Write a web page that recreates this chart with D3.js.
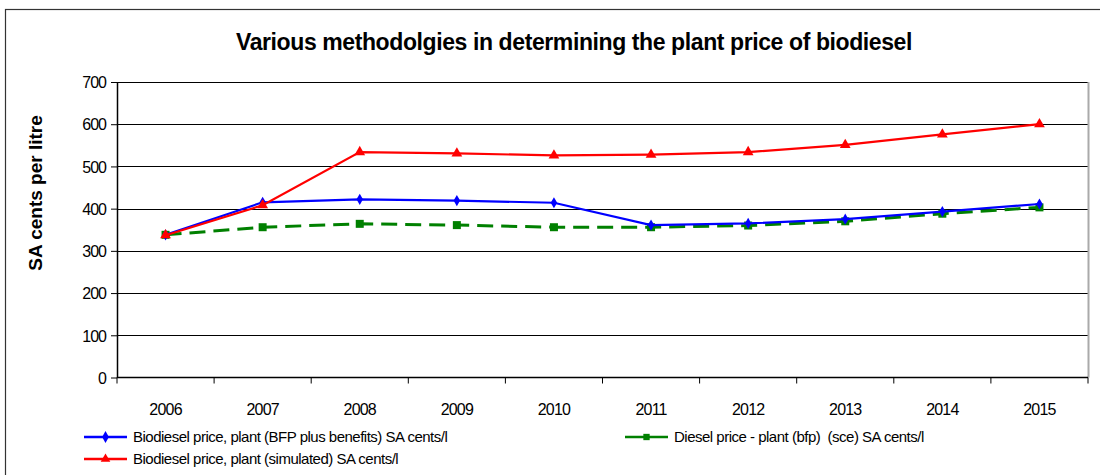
<!DOCTYPE html>
<html>
<head>
<meta charset="utf-8">
<script src="https://cdn.jsdelivr.net/npm/d3@7"></script>
<style>
  body { margin: 0; background: #fff; }
  text { font-family: "Liberation Sans", Arial, sans-serif; }
</style>
</head>
<body>
<script>
//chart data
var years = ["2006","2007","2008","2009","2010","2011","2012","2013","2014","2015"];
var bfpPlus = [338, 415, 422, 419, 414, 361, 365, 375, 393, 411];
var simulated = [337, 408, 534, 531, 526, 528, 534, 551, 576, 600];
var dieselBfp = [338, 356, 364, 361, 356, 356, 360, 370, 388, 403];
var yTicks = [0, 100, 200, 300, 400, 500, 600, 700];
var seriesNames = [
    "Biodiesel price, plant (BFP plus benefits) SA cents/l",
    "Diesel price - plant (bfp)  (sce) SA cents/l",
    "Biodiesel price, plant (simulated) SA cents/l"
];

window.onload = function(){

    var w = 1100, h = 475;

    var svg = d3.select("body").append("svg")
        .attr("width", w)
        .attr("height", h);

    //outer chart border
    svg.append("rect")
        .attr("x", 5.5).attr("y", 9.5)
        .attr("width", 1110).attr("height", 480)
        .style("fill", "#fff")
        .style("stroke", "#333")
        .style("stroke-width", 1.2);

    //plot area
    var pLeft = 117, pRight = 1088, pTop = 82, pBottom = 377.5;

    var x = d3.scaleBand().domain(years).range([pLeft, pRight]);
    var y = d3.scaleLinear().domain([0, 700]).range([pBottom, pTop]);

    //gridlines
    svg.selectAll(".grid")
        .data(yTicks.filter(function(d){ return d > 0; }))
        .enter().append("line")
        .attr("class", "grid")
        .attr("x1", pLeft).attr("x2", pRight)
        .attr("y1", function(d){ return Math.round(y(d)) + 0.5; })
        .attr("y2", function(d){ return Math.round(y(d)) + 0.5; })
        .style("stroke", "#000")
        .style("stroke-width", 1);

    //right border of plot
    svg.append("line")
        .attr("x1", pRight + 0.5).attr("x2", pRight + 0.5)
        .attr("y1", pTop).attr("y2", pBottom)
        .style("stroke", "#aaa").style("stroke-width", 2);

    //y axis
    var yAxis = svg.append("g")
        .attr("transform", "translate(" + pLeft + ",0)")
        .call(d3.axisLeft(y).tickValues(yTicks).tickSize(6).tickSizeOuter(0).tickPadding(5));
    yAxis.select(".domain").style("stroke", "#000").style("stroke-width", 1.5);
    yAxis.selectAll(".tick line").style("stroke", "#000");
    yAxis.selectAll("text")
        .style("font-size", "16px")
        .style("letter-spacing", "-1px")
        .style("fill", "#000")
        .attr("dy", "0.36em");

    //x axis, ticks at category boundaries
    var xAxis = svg.append("g")
        .attr("transform", "translate(0," + pBottom + ")")
        .call(d3.axisBottom(x).tickSize(0).tickPadding(26));
    xAxis.select(".domain").remove();
    xAxis.selectAll("text")
        .style("font-size", "16px")
        .style("letter-spacing", "-0.8px")
        .style("fill", "#000");
    svg.append("line")
        .attr("x1", pLeft).attr("x2", pRight)
        .attr("y1", pBottom).attr("y2", pBottom)
        .style("stroke", "#000").style("stroke-width", 1.5);
    svg.selectAll(".xtick")
        .data(years.concat(["end"]))
        .enter().append("line")
        .attr("class", "xtick")
        .attr("x1", function(d, i){ return pLeft + i * x.bandwidth(); })
        .attr("x2", function(d, i){ return pLeft + i * x.bandwidth(); })
        .attr("y1", pBottom).attr("y2", pBottom + 6)
        .style("stroke", "#000");

    //title
    svg.append("text")
        .attr("x", 574).attr("y", 50)
        .attr("text-anchor", "middle")
        .style("font-size", "23px")
        .style("font-weight", "bold")
        .style("letter-spacing", "-0.4px")
        .text("Various methodolgies in determining the plant price of biodiesel");

    //y axis title
    svg.append("text")
        .attr("transform", "translate(42,193) rotate(-90)")
        .attr("text-anchor", "middle")
        .style("font-size", "19px")
        .style("font-weight", "bold")
        .text("SA cents per litre");

    var cx = function(i){ return x(years[i]) + x.bandwidth() / 2; };
    var line = d3.line()
        .x(function(d, i){ return cx(i); })
        .y(function(d){ return y(d); });

    //diesel (green dashed, squares)
    svg.append("path")
        .datum(dieselBfp)
        .attr("d", line)
        .style("fill", "none")
        .style("stroke", "#008000")
        .style("stroke-width", 3)
        .style("stroke-dasharray", "16,8");
    svg.selectAll(".sq")
        .data(dieselBfp)
        .enter().append("rect")
        .attr("class", "sq")
        .attr("x", function(d, i){ return cx(i) - 4; })
        .attr("y", function(d){ return y(d) - 4; })
        .attr("width", 8).attr("height", 8)
        .style("fill", "#008000");

    //biodiesel BFP plus benefits (blue, diamonds)
    svg.append("path")
        .datum(bfpPlus)
        .attr("d", line)
        .style("fill", "none")
        .style("stroke", "#0000ff")
        .style("stroke-width", 2.2);
    svg.selectAll(".dm")
        .data(bfpPlus)
        .enter().append("path")
        .attr("class", "dm")
        .attr("d", d3.symbol().type(d3.symbolDiamond).size(36))
        .attr("transform", function(d, i){ return "translate(" + cx(i) + "," + y(d) + ")"; })
        .style("fill", "#0000ff");

    //simulated (red, triangles)
    svg.append("path")
        .datum(simulated)
        .attr("d", line)
        .style("fill", "none")
        .style("stroke", "#ff0000")
        .style("stroke-width", 2.2);
    svg.selectAll(".tr")
        .data(simulated)
        .enter().append("path")
        .attr("class", "tr")
        .attr("d", d3.symbol().type(d3.symbolTriangle).size(50))
        .attr("transform", function(d, i){ return "translate(" + cx(i) + "," + y(d) + ")"; })
        .style("fill", "#ff0000");

    //legend
    var legendItems = [
        { name: seriesNames[0], color: "#0000ff", sym: d3.symbolDiamond, lx: 84, ly: 437 },
        { name: seriesNames[1], color: "#008000", sym: d3.symbolSquare, lx: 625, ly: 437 },
        { name: seriesNames[2], color: "#ff0000", sym: d3.symbolTriangle, lx: 84, ly: 459 }
    ];
    var leg = svg.selectAll(".legend")
        .data(legendItems)
        .enter().append("g")
        .attr("class", "legend")
        .attr("transform", function(d){ return "translate(" + d.lx + "," + d.ly + ")"; });
    leg.append("line")
        .attr("x1", 0).attr("x2", 43)
        .attr("y1", 0).attr("y2", 0)
        .style("stroke", function(d){ return d.color; })
        .style("stroke-width", 2.5);
    leg.append("path")
        .attr("d", function(d){ return d3.symbol().type(d.sym).size(40)(); })
        .attr("transform", "translate(21.5,0)")
        .style("fill", function(d){ return d.color; });
    leg.append("text")
        .attr("x", 49).attr("y", 5)
        .style("font-size", "15px")
        .style("letter-spacing", "-0.5px")
        .style("white-space", "pre")
        .text(function(d){ return d.name; });
};
</script>
</body>
</html>
